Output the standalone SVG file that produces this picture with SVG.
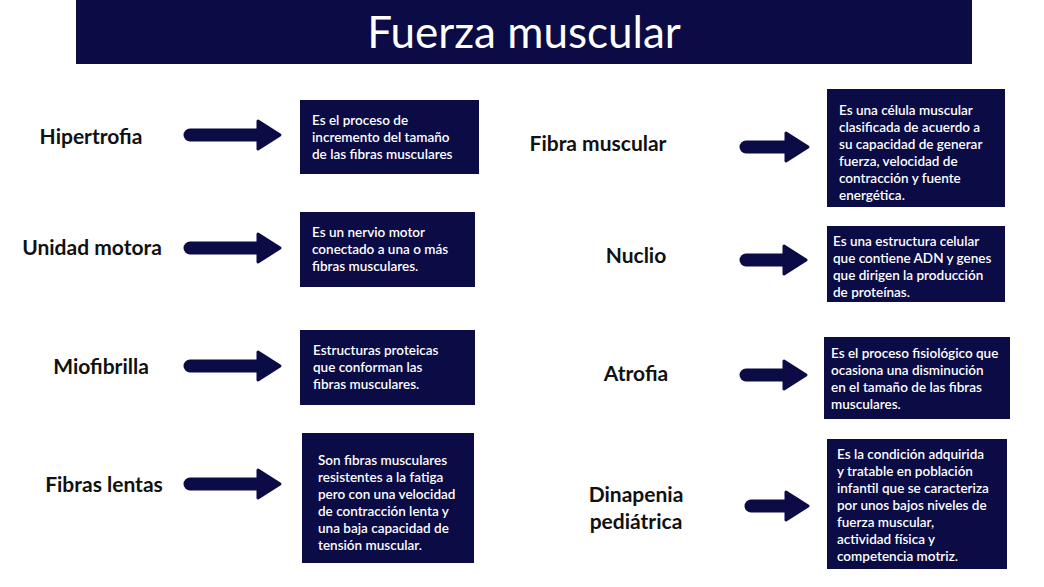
<svg xmlns="http://www.w3.org/2000/svg" width="1044" height="587" viewBox="0 0 1044 587">
<style>
.b{fill:#0b0b45}
.t{fill:#fff;font-family:Lato,"Open Sans",sans-serif;font-size:13.5px;font-weight:600}
.l{fill:#111;font-family:Lato,"Open Sans",sans-serif;font-size:21px;font-weight:700;text-anchor:middle}
.a{fill:none;stroke:#0b0b45;stroke-width:13;stroke-linecap:round}
.h{fill:#0b0b45;stroke:#0b0b45;stroke-width:3;stroke-linejoin:round}
</style>
<rect class="b" x="76" y="0" width="896" height="64"/>
<text x="524" y="48" fill="#fff" font-family="Lato,'Open Sans',sans-serif" font-size="44" text-anchor="middle">Fuerza muscular</text>
<g id="connectors">
<path class="a" d="M190 135H262"/><path class="h" d="M258 121L280 135L258 149Z"/>
<path class="a" d="M190 248H262"/><path class="h" d="M258 234L280 248L258 262Z"/>
<path class="a" d="M190 366H262"/><path class="h" d="M258 352L280 366L258 380Z"/>
<path class="a" d="M190 484H262"/><path class="h" d="M258 470L280 484L258 498Z"/>
<path class="a" d="M746 147H790"/><path class="h" d="M786 133L808 147L786 161Z"/>
<path class="a" d="M746 260H788"/><path class="h" d="M784 246L806 260L784 274Z"/>
<path class="a" d="M746 375H788"/><path class="h" d="M784 361L806 375L784 389Z"/>
<path class="a" d="M751 506H790"/><path class="h" d="M786 492L808 506L786 520Z"/>
</g>
<g id="n1"><text class="l" x="91" y="144">Hipertrofia</text><rect class="b" x="300" y="100" width="179" height="74"/><text class="t"><tspan x="312" y="125">Es el proceso de</tspan><tspan x="312" y="142">incremento del tamaño</tspan><tspan x="312" y="159">de las fibras musculares</tspan></text></g>
<g id="n2"><text class="l" x="92" y="255">Unidad motora</text><rect class="b" x="300" y="212" width="175" height="75"/><text class="t"><tspan x="312" y="237">Es un nervio motor</tspan><tspan x="312" y="254">conectado a una o más</tspan><tspan x="312" y="271">fibras musculares.</tspan></text></g>
<g id="n3"><text class="l" x="101" y="374">Miofibrilla</text><rect class="b" x="300" y="330" width="175" height="75"/><text class="t"><tspan x="313" y="355">Estructuras proteicas</tspan><tspan x="313" y="372">que conforman las</tspan><tspan x="313" y="389">fibras musculares.</tspan></text></g>
<g id="n4"><text class="l" x="104" y="492">Fibras lentas</text><rect class="b" x="302" y="433" width="172" height="130"/><text class="t"><tspan x="318" y="465">Son fibras musculares</tspan><tspan x="318" y="482">resistentes a la fatiga</tspan><tspan x="318" y="499">pero con una velocidad</tspan><tspan x="318" y="516">de contracción lenta y</tspan><tspan x="318" y="533">una baja capacidad de</tspan><tspan x="318" y="550">tensión muscular.</tspan></text></g>
<g id="n5"><text class="l" x="598" y="151">Fibra muscular</text><rect class="b" x="827" y="89" width="178" height="118"/><text class="t"><tspan x="839" y="115">Es una célula muscular</tspan><tspan x="839" y="132">clasificada de acuerdo a</tspan><tspan x="839" y="149">su capacidad de generar</tspan><tspan x="839" y="166">fuerza, velocidad de</tspan><tspan x="839" y="183">contracción y fuente</tspan><tspan x="839" y="200">energética.</tspan></text></g>
<g id="n6"><text class="l" x="636" y="263">Nuclio</text><rect class="b" x="827" y="226" width="178" height="76"/><text class="t"><tspan x="833" y="246">Es una estructura celular</tspan><tspan x="833" y="263">que contiene ADN y genes</tspan><tspan x="833" y="280">que dirigen la producción</tspan><tspan x="833" y="297">de proteínas.</tspan></text></g>
<g id="n7"><text class="l" x="636" y="381">Atrofia</text><rect class="b" x="824" y="337" width="186" height="82"/><text class="t"><tspan x="831" y="358">Es el proceso fisiológico que</tspan><tspan x="831" y="375">ocasiona una disminución</tspan><tspan x="831" y="392">en el tamaño de las fibras</tspan><tspan x="831" y="409">musculares.</tspan></text></g>
<g id="n8"><text class="l" x="636" y="502">Dinapenia</text><text class="l" x="636" y="529">pediátrica</text><rect class="b" x="827" y="439" width="180" height="130"/><text class="t"><tspan x="837" y="459">Es la condición adquirida</tspan><tspan x="837" y="476">y tratable en población</tspan><tspan x="837" y="493">infantil que se caracteriza</tspan><tspan x="837" y="510">por unos bajos niveles de</tspan><tspan x="837" y="527">fuerza muscular,</tspan><tspan x="837" y="544">actividad física y</tspan><tspan x="837" y="561">competencia motriz.</tspan></text></g>
</svg>
